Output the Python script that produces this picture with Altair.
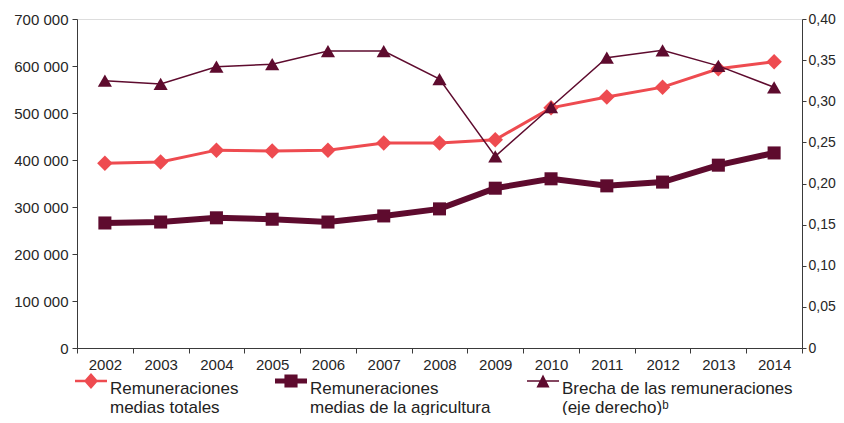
import altair as alt
import pandas as pd

years = [str(y) for y in range(2002, 2015)]
totales = [393000, 396000, 421000, 419000, 421000, 436000, 436000, 443000, 511000, 534000, 555000, 594000, 609000]
agricultura = [266000, 268000, 277000, 274000, 268000, 281000, 296000, 340000, 360000, 345000, 353000, 389000, 415000]
brecha = [0.325, 0.321, 0.342, 0.345, 0.361, 0.361, 0.327, 0.233, 0.293, 0.353, 0.362, 0.343, 0.317]

series_names = [
    "Remuneraciones|medias totales",
    "Remuneraciones|medias de la agricultura",
    "Brecha de las remuneraciones|(eje derecho)\u1d47",
]
colors = ["#EE4B50", "#5E0B2E", "#5E0B2E"]

rows = []
for name, vals in zip(series_names, [totales, agricultura, brecha]):
    for y, v in zip(years, vals):
        rows.append({"year": y, "series": name, "value": v})
df = pd.DataFrame(rows)

FONT = "Liberation Sans"
LEGEND_FONT = "Liberation Sans, DejaVu Sans, sans-serif"

legend_paths = [
    "M-1,-0.58H1V-0.42H-1Z M0,-1L0.44,-0.5L0,0L-0.44,-0.5Z",
    "M-1,-0.66H1V-0.34H-1Z M-0.41,-0.91H0.41V-0.09H-0.41Z",
    "M-1,-0.55H1V-0.45H-1Z M0,-0.9L0.41,-0.1L-0.41,-0.1Z",
]

x_enc = alt.X(
    "year:N",
    sort=years,
    bandPosition=0.5,
    scale=alt.Scale(type="band", domain=years, paddingInner=0, paddingOuter=0),
    axis=alt.Axis(
        title=None, labelAngle=0, tickBand="extent", tickSize=5,
        labelFontSize=15, labelFont=FONT, labelColor="#262626",
        domainColor="#3a3a3a", tickColor="#3a3a3a", labelPadding=4, grid=False,
    ),
)

y_left = alt.Y(
    "value:Q",
    scale=alt.Scale(domain=[0, 700000], nice=False),
    axis=alt.Axis(
        title=None, orient="left", values=[i * 100000 for i in range(8)],
        labelExpr="replace(format(datum.value, ','), ',', ' ')",
        labelFontSize=15, labelFont=FONT, labelColor="#262626",
        domainColor="#3a3a3a", tickColor="#3a3a3a", tickSize=5, labelPadding=4, grid=False,
    ),
)

y_right = alt.Y(
    "value:Q",
    scale=alt.Scale(domain=[0, 0.4], nice=False),
    axis=alt.Axis(
        title=None, orient="right", values=[i * 0.05 for i in range(9)],
        labelExpr="datum.value == 0 ? '0' : replace(format(datum.value, '.2f'), '.', ',')",
        labelFontSize=14, labelFont=FONT, labelColor="#262626",
        domainColor="#3a3a3a", tickColor="#3a3a3a", tickSize=4, labelPadding=2, grid=False,
    ),
)

base = alt.Chart(df)


def series_layers(idx, y_enc, width, shape, size):
    name = series_names[idx]
    sub = base.transform_filter(alt.datum.series == name)
    line = sub.mark_line(color=colors[idx], strokeWidth=width).encode(x=x_enc, y=y_enc)
    pts = sub.mark_point(filled=True, shape=shape, size=size, color=colors[idx], opacity=1).encode(x=x_enc, y=y_enc)
    return [line, pts]


legend_def = alt.Legend(
    title=None, orient="none", legendX=-2, legendY=354, direction="horizontal",
    columns=3, columnPadding=36, symbolSize=1024, symbolStrokeWidth=0,
    labelFont=LEGEND_FONT, labelFontSize=17, labelColor="#222222", labelLimit=400,
    labelExpr="split(datum.label, '|')", labelOffset=3,
)

legend_layer = base.transform_filter("datum.value < 0").mark_point(filled=True, opacity=1).encode(
    x=x_enc,
    y=y_left,
    color=alt.Color("series:N", scale=alt.Scale(domain=series_names, range=colors), legend=legend_def),
    shape=alt.Shape("series:N", scale=alt.Scale(domain=series_names, range=legend_paths), legend=legend_def),
)

left = alt.layer(
    *series_layers(0, y_left, 3, "diamond", 240),
    *series_layers(1, y_left, 6, "square", 170),
    legend_layer,
)
right = alt.layer(*series_layers(2, y_right, 1.5, "triangle-up", 200))

chart = (
    alt.layer(left, right)
    .resolve_scale(y="independent")
    .properties(
        width=725, height=329,
        autosize=alt.AutoSizeParams(type="none"),
        padding={"left": 69, "top": 11, "right": 34, "bottom": 67},
    )
    .configure_view(stroke=None, strokeWidth=0)
    .configure(background="white")
)

chart.save("out.html", embed_options={"renderer": "svg", "actions": False})
